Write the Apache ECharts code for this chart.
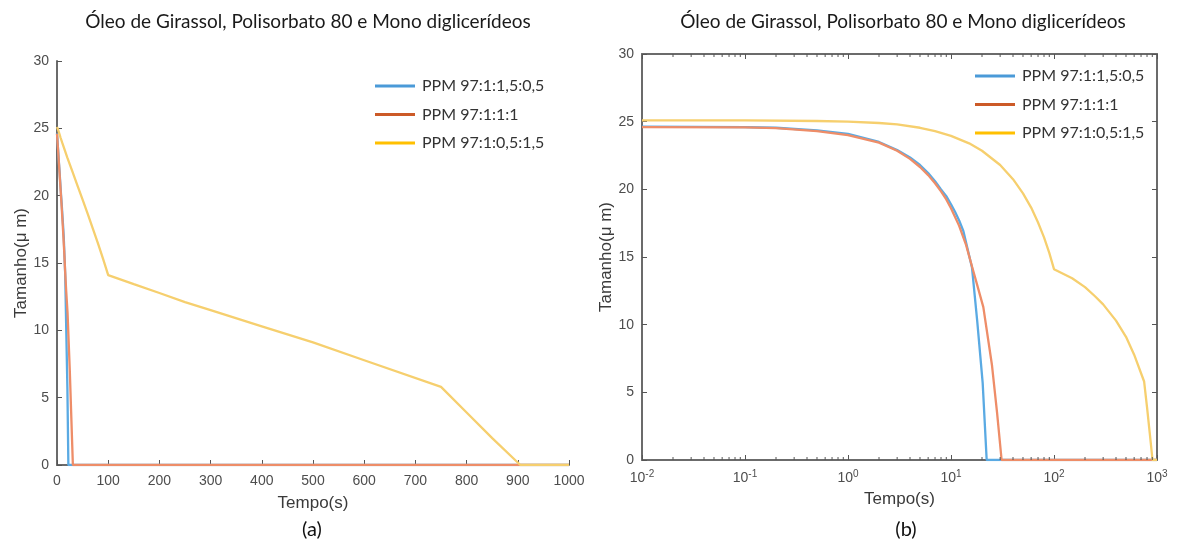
<!DOCTYPE html>
<html>
<head>
<meta charset="utf-8">
<script src="https://cdn.jsdelivr.net/npm/echarts@6/dist/echarts.min.js"></script>
<style>html,body{margin:0;padding:0;background:#fff}#c{width:1178px;height:542px}</style>
</head>
<body>
<div id="c"></div>
<script>
// ---- data ----
const seriesNames = ['PPM 97:1:1,5:0,5', 'PPM 97:1:1:1', 'PPM 97:1:0,5:1,5'];
const blueT = [0.01, 0.1, 0.2, 0.5, 1, 2, 3, 4, 5, 6, 7, 8, 9, 10, 11, 12, 13.2, 16, 18, 20.3, 22.2, 1000];
const blueY = [24.63, 24.6, 24.55, 24.35, 24.1, 23.5, 22.9, 22.35, 21.8, 21.2, 20.6, 20.0, 19.5, 18.9, 18.3, 17.7, 16.9, 14.2, 10.2, 5.7, 0, 0];
const redT = [0.01, 0.1, 0.2, 0.5, 1, 2, 3, 4, 5, 6, 7, 8, 9, 10, 12, 14, 16, 18, 20.6, 25, 28, 31, 1000];
const redY = [24.6, 24.58, 24.52, 24.3, 24.0, 23.45, 22.85, 22.25, 21.65, 21.05, 20.45, 19.85, 19.25, 18.6, 17.3, 15.9, 14.3, 12.9, 11.3, 7.0, 3.5, 0, 0];
const yellowT = [0.01, 0.1, 0.5, 1, 2, 3, 5, 7, 10, 15, 20, 30, 40, 50, 60, 70, 80, 90, 100, 150, 200, 250, 300, 400, 500, 600, 750, 800, 850, 905, 1000];
const yellowY = [25.1, 25.1, 25.05, 25.0, 24.9, 24.8, 24.55, 24.3, 23.95, 23.4, 22.85, 21.8, 20.75, 19.7, 18.65, 17.55, 16.45, 15.3, 14.1, 13.43, 12.77, 12.1, 11.5, 10.3, 9.1, 7.78, 5.8, 3.9, 2.0, 0, 0];
const linearTicks = [0, 1000, 100];   // min, max, interval (left chart)
const logDecades = [-2, -1, 0, 1, 2, 3]; // decades of the right chart
const minorFactors = [2, 3, 4, 5, 6, 7, 8, 9];
const sizeTicks = [0, 30, 5];         // min, max, interval

const titleText = 'Óleo de Girassol, Polisorbato 80 e Mono diglicerídeos';
const lineColors = ['#5aaae3', '#ee8d68', '#f6cf6e'];
const legendColors = ['#4a9ad8', '#cc5a28', '#ffc000'];

const pairs = (T, Y) => T.map((t, i) => [t, Y[i]]);
const dataSets = [pairs(blueT, blueY), pairs(redT, redY), pairs(yellowT, yellowY)];
const logMin = Math.pow(10, logDecades[0]);
const logMax = Math.pow(10, logDecades[logDecades.length - 1]);
const minorTickValues = [];
logDecades.slice(0, -1).forEach(e => minorFactors.forEach(f => minorTickValues.push([f * Math.pow(10, e)])));

const axisColor = '#6b6b6b';
const labelStyle = {color: '#4d4d4d', fontSize: 14, fontFamily: 'Liberation Sans'};
const nameStyle = {color: '#3a3a3a', fontSize: 17, fontFamily: 'Liberation Sans'};

function baseAxis(extra) {
  return Object.assign({
    axisLine: {show: true, onZero: false, lineStyle: {color: axisColor, width: 2}},
    axisTick: {show: true, inside: true, length: 5, lineStyle: {color: '#555', width: 1}},
    splitLine: {show: false},
    axisLabel: Object.assign({}, labelStyle),
    nameTextStyle: nameStyle
  }, extra);
}

const sup = (v) => {
  const e = Math.round(Math.log10(v));
  return '{b|10}{s|' + e + '}';
};

const legendData = seriesNames.map((n, i) => ({name: n, itemStyle: {color: legendColors[i]}}));

const series = [];
[0, 1].forEach(g => {
  seriesNames.forEach((n, i) => {
    series.push({
      name: n, type: 'line', xAxisIndex: g === 0 ? 0 : 1, yAxisIndex: g === 0 ? 0 : 1,
      data: dataSets[i], symbol: 'none', showSymbol: false,
      lineStyle: {color: lineColors[i], width: 2.3},
      itemStyle: {color: lineColors[i]},
      z: 2 + i
    });
  });
});
// minor ticks of the log axis (bottom and top), placed through the axis scale
series.push({
  type: 'custom', name: 'minorTicks', xAxisIndex: 1, yAxisIndex: 1, silent: true, z: 10,
  encode: {x: 0},
  data: minorTickValues,
  renderItem: function (params, api) {
    const v = api.value(0);
    const b = api.coord([v, sizeTicks[0]]);
    const t = api.coord([v, sizeTicks[1]]);
    const st = {stroke: '#555', lineWidth: 1};
    return {type: 'group', children: [
      {type: 'line', shape: {x1: b[0], y1: b[1], x2: b[0], y2: b[1] - 3}, style: st},
      {type: 'line', shape: {x1: t[0], y1: t[1], x2: t[0], y2: t[1] + 3}, style: st}
    ]};
  }
});

const legendCommon = {orient: 'vertical', itemWidth: 40, itemHeight: 3, itemGap: 12.5, data: legendData, icon: 'rect',
  textStyle: {fontFamily: 'Lato', fontSize: 16, color: '#333', padding: [0, 0, 0, 2]}, selectedMode: false};

const option = {
  animation: false,
  title: [
    {text: titleText, left: 303, top: 7, textAlign: 'center', textStyle: {fontFamily: 'Lato', fontSize: 19, fontWeight: 'normal', color: '#1a1a1a'}},
    {text: titleText, left: 898, top: 7, textAlign: 'center', textStyle: {fontFamily: 'Lato', fontSize: 19, fontWeight: 'normal', color: '#1a1a1a'}},
    {text: '(a)', left: 307, top: 515, textAlign: 'center', textStyle: {fontFamily: 'Lato', fontSize: 20, fontWeight: 'normal', color: '#111'}},
    {text: '(b)', left: 901, top: 515, textAlign: 'center', textStyle: {fontFamily: 'Lato', fontSize: 20, fontWeight: 'normal', color: '#111'}}
  ],
  legend: [
    Object.assign({left: 370, top: 73}, legendCommon),
    Object.assign({left: 970, top: 63}, legendCommon)
  ],
  grid: [
    {left: 57, top: 61, width: 512, height: 404, containLabel: false},
    {left: 642, top: 54, width: 515, height: 406, containLabel: false, show: false}
  ],
  xAxis: [
    baseAxis({gridIndex: 0, type: 'value', min: linearTicks[0], max: linearTicks[1], interval: linearTicks[2],
      name: 'Tempo(s)', nameLocation: 'middle', nameGap: 30,
      axisLabel: Object.assign({}, labelStyle, {margin: 9, formatter: v => String(v)})}),
    baseAxis({gridIndex: 1, type: 'log', logBase: 10, min: logMin, max: logMax,
      name: 'Tempo(s)', nameLocation: 'middle', nameGap: 31,
      axisLabel: Object.assign({}, labelStyle, {margin: 9, formatter: sup,
        rich: {b: {fontSize: 14, color: '#4d4d4d', fontFamily: 'Liberation Sans'},
               s: {fontSize: 10, color: '#4d4d4d', fontFamily: 'Liberation Sans', padding: [0, 0, 9, 0]}}})}),
    baseAxis({gridIndex: 1, type: 'log', logBase: 10, min: logMin, max: logMax, position: 'top',
      axisLabel: {show: false}})
  ],
  yAxis: [
    baseAxis({gridIndex: 0, type: 'value', min: sizeTicks[0], max: sizeTicks[1], interval: sizeTicks[2],
      name: 'Tamanho(μ m)', nameLocation: 'middle', nameGap: 27, axisLabel: Object.assign({}, labelStyle, {margin: 8})}),
    baseAxis({gridIndex: 1, type: 'value', min: sizeTicks[0], max: sizeTicks[1], interval: sizeTicks[2],
      name: 'Tamanho(μ m)', nameLocation: 'middle', nameGap: 27, axisLabel: Object.assign({}, labelStyle, {margin: 8})}),
    baseAxis({gridIndex: 1, type: 'value', min: sizeTicks[0], max: sizeTicks[1], interval: sizeTicks[2], position: 'right',
      axisLabel: {show: false}})
  ],
  series: series
};

const chart = echarts.init(document.getElementById('c'), null, {renderer: 'canvas'});
chart.setOption(option);
</script>
</body>
</html>
